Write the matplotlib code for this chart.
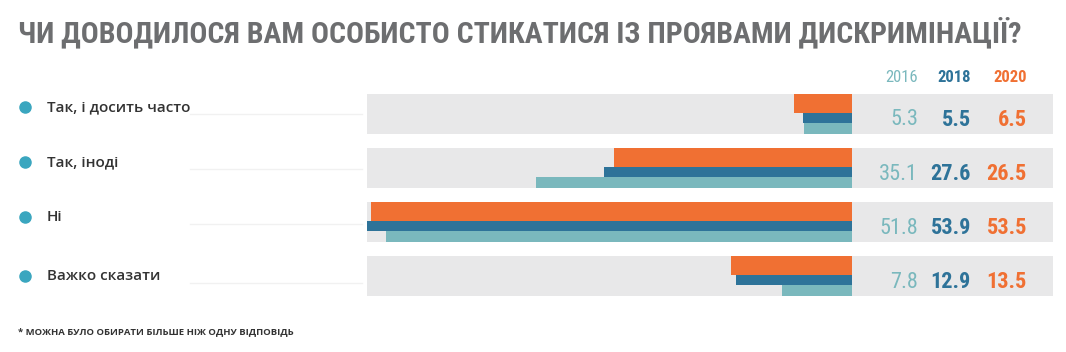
import matplotlib
matplotlib.use("Agg")
import matplotlib.pyplot as plt
from matplotlib import font_manager

categories = ["Так, і досить часто", "Так, іноді", "Ні", "Важко сказати"]
years = ["2016", "2018", "2020"]
v2016 = [5.3, 35.1, 51.8, 7.8]
v2018 = [5.5, 27.6, 53.9, 12.9]
v2020 = [6.5, 26.5, 53.5, 13.5]

title = "ЧИ ДОВОДИЛОСЯ ВАМ ОСОБИСТО СТИКАТИСЯ ІЗ ПРОЯВАМИ ДИСКРИМІНАЦІЇ?"
note = "* МОЖНА БУЛО ОБИРАТИ БІЛЬШЕ НІЖ ОДНУ ВІДПОВІДЬ"

c16, c18, c20 = "#7ab8bd", "#2e7399", "#f07033"
grey = "#e8e8e9"
W, H = 1066, 352

# pick a narrow family if one is installed
names = {f.name for f in font_manager.fontManager.ttflist}
narrow = [n for n in ["Roboto Condensed", "Liberation Sans Narrow", "DejaVu Sans Condensed"] if n in names]
narrow = narrow + ["DejaVu Sans"]

fig = plt.figure(figsize=(W / 100, H / 100), dpi=100)
fig.patch.set_facecolor("white")

def fx(px):
    return px / W

def fy(py):
    return 1 - py / H

# bars area
ax = fig.add_axes([fx(367), fy(296), fx(1053 - 367), (296 - 94) / H])
xmin, xmax = -53.9, 22.33
ax.set_xlim(xmin, xmax)
ax.set_ylim(3.37, -0.37)
ax.axis("off")

rows = range(len(categories))
ax.barh(list(rows), xmax - xmin, left=xmin, height=0.74, color=grey, zorder=0)

# orange on top, blue in the middle, teal at the bottom
ax.barh([r - 0.194 for r in rows], [-v for v in v2020], height=0.352, color=c20, zorder=2)
ax.barh([r + 0.074 for r in rows], [-v for v in v2018], height=0.185, color=c18, zorder=2)
ax.barh([r + 0.268 for r in rows], [-v for v in v2016], height=0.204, color=c16, zorder=2)

# value columns
cols = [(918, v2016, c16, "normal"), (971, v2018, c18, "semibold"), (1027, v2020, c20, "bold")]
for (xp, vals, col, wt), yr in zip(cols, years):
    fig.text(fx(xp), fy(78), yr, ha="right", va="center", color=col,
             fontsize=12, fontweight=wt, family=narrow, fontstretch="condensed")
    for r, v in enumerate(vals):
        fig.text(fx(xp), fy(120 + 54 * r), f"{v:.1f}", ha="right", va="center",
                 color=col, fontsize=16, fontweight=wt, family=narrow,
                 fontstretch="condensed")

# category labels with dots
label_y = [107, 162, 217, 276]
for name, yp in zip(categories, label_y):
    fig.text(fx(47), fy(yp), name, ha="left", va="center", color="#333333",
             fontsize=11, fontweight="semibold", family=["Open Sans", "DejaVu Sans"])
    fig.add_artist(plt.Line2D([fx(25)], [fy(yp)], marker="o", markersize=8,
                              color="#3aa6bf", transform=fig.transFigure))
    fig.add_artist(plt.Line2D([fx(190), fx(362)], [fy(yp + 7), fy(yp + 7)],
                              color="#f1f1f1", lw=1, transform=fig.transFigure))

fig.text(fx(18), fy(33), title, ha="left", va="center", color="#6d6e70",
         fontsize=21.5, fontweight="bold", family=narrow, fontstretch="condensed")
fig.text(fx(18), fy(332), note, ha="left", va="center", color="#333333",
         fontsize=6.8, fontweight="bold", family=["Open Sans", "DejaVu Sans"])

fig.savefig("out.png", dpi=100)
